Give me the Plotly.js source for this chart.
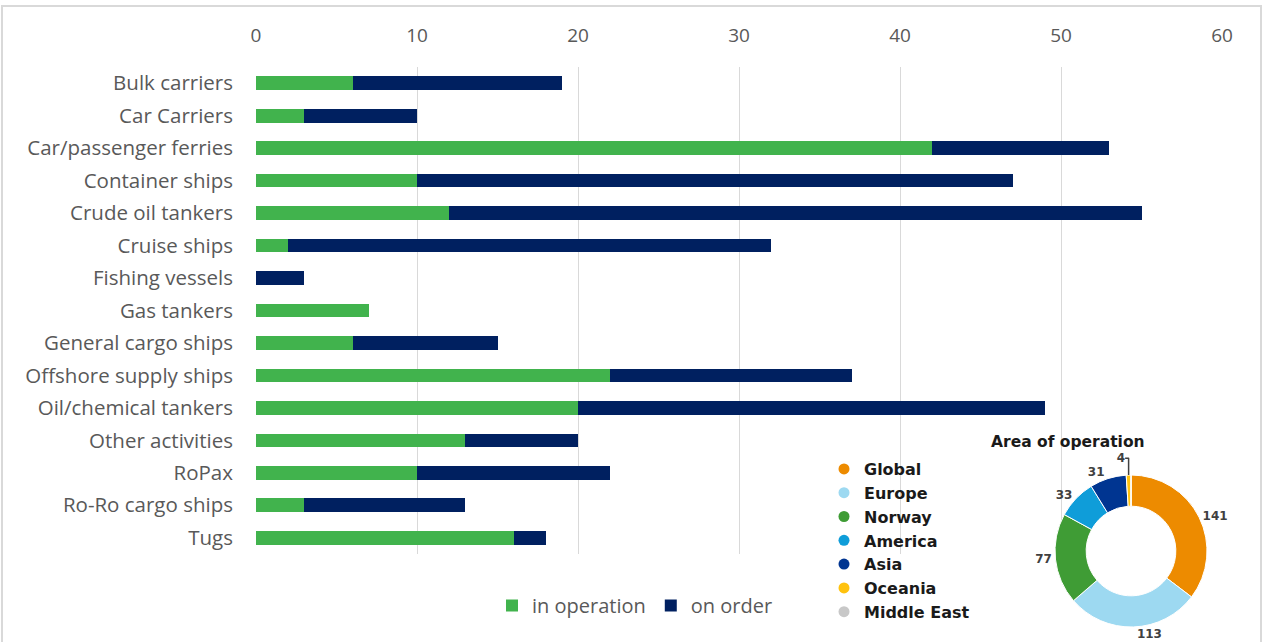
<!DOCTYPE html>
<html>
<head>
<meta charset="utf-8">
<script src="https://cdn.plot.ly/plotly-3.0.1.min.js"></script>
<style>html,body{margin:0;padding:0;background:#fff;}#chart{width:1263px;height:642px;}</style>
</head>
<body>
<div id="chart"></div>
<script>
const categories = ["Bulk carriers","Car Carriers","Car/passenger ferries","Container ships","Crude oil tankers","Cruise ships","Fishing vessels","Gas tankers","General cargo ships","Offshore supply ships","Oil/chemical tankers","Other activities","RoPax","Ro-Ro cargo ships","Tugs"];
const inOperation = [6,3,42,10,12,2,0,7,6,22,20,13,10,3,16];
const onOrder = [13,7,11,37,43,30,3,0,9,15,29,7,12,10,2];
const xTicks = [0,10,20,30,40,50,60];

const areaLabels = ["Global","Europe","Norway","America","Asia","Oceania","Middle East"];
const areaValues = [141,113,77,33,31,4,0];
const areaColors = ["#ED8B00","#9DD9F1","#3F9C35","#0F9DD9","#003591","#FFC20E","#C8C8C8"];

const W = 1263, H = 642;
const px = v => v / W;
const py = v => 1 - v / H;

const traces = [
  {type:"bar", orientation:"h", name:"in operation", y:categories, x:inOperation,
   marker:{color:"#41B34D"}, legend:"legend"},
  {type:"bar", orientation:"h", name:"on order", y:categories, x:onOrder,
   marker:{color:"#002060"}, legend:"legend"},
  {type:"pie", labels:areaLabels, values:areaValues, hole:0.59, sort:false,
   direction:"clockwise", rotation:0,
   marker:{colors:areaColors, line:{color:"#ffffff", width:1}},
   textinfo:"value", textposition:"outside",
   texttemplate: areaValues.map(v => v > 0 ? String(v) : ""),
   textfont:{family:"DejaVu Sans, sans-serif", size:12, color:"#404040", weight:"bold"},
   showlegend:false, automargin:false,
   domain:{x:[px(1055), px(1207)], y:[py(627), py(475)]}}
];
// legend entries for the doughnut, drawn as round markers
areaLabels.forEach((lab, i) => {
  traces.push({type:"scatter", mode:"markers", x:[null], y:[null], name:lab,
    marker:{color:areaColors[i], size:11, symbol:"circle"}, legend:"legend2",
    showlegend:true, hoverinfo:"skip"});
});

const layout = {
  width:W, height:H,
  margin:{l:0, r:0, t:0, b:0},
  paper_bgcolor:"#ffffff", plot_bgcolor:"#ffffff",
  barmode:"stack", bargap:0.58,
  font:{family:"Open Sans, sans-serif", color:"#595959"},
  xaxis:{domain:[px(256), px(1222)], range:[0,60], side:"top", tickvals:xTicks,
    showgrid:true, gridcolor:"#D9D9D9", gridwidth:1, zeroline:false, showline:false,
    ticks:"", ticklabelstandoff:20, tickfont:{size:19, color:"#595959"}, fixedrange:true},
  yaxis:{domain:[py(554), py(67)], autorange:"reversed", type:"category",
    showgrid:false, zeroline:false, showline:false, ticks:"", ticklabelstandoff:22,
    tickfont:{size:20.5, color:"#595959"}, fixedrange:true},
  legend:{orientation:"h", x:px(492), y:py(586), xanchor:"left", yanchor:"top",
    font:{size:20, color:"#595959"}, itemwidth:30, traceorder:"normal",
    bgcolor:"rgba(0,0,0,0)"},
  legend2:{x:px(824), y:py(452), xanchor:"left", yanchor:"top",
    font:{family:"DejaVu Sans, sans-serif", size:16, color:"#1a1a1a", weight:"bold"},
    itemwidth:30, tracegroupgap:0, bgcolor:"rgba(0,0,0,0)"},
  annotations:[
    {text:"Area of operation", x:px(1068), y:py(442), xref:"paper", yref:"paper",
     xanchor:"center", yanchor:"middle",
     showarrow:false, font:{family:"DejaVu Sans, sans-serif", size:15.5, color:"#1a1a1a", weight:"bold"}}
  ],
  shapes:[
    {type:"rect", xref:"paper", yref:"paper", x0:px(2), x1:px(1261), y0:py(660), y1:py(6),
     line:{color:"#D9D9D9", width:2}, fillcolor:"rgba(0,0,0,0)", layer:"below"}
  ]
};

Plotly.newPlot("chart", traces, layout, {displayModeBar:false, staticPlot:true});
</script>
</body>
</html>
